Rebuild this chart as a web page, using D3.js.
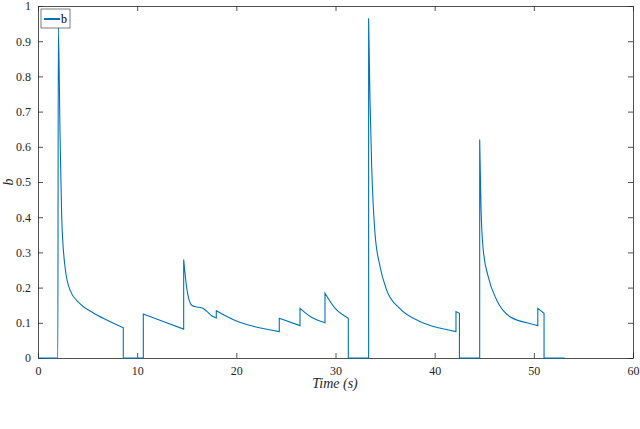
<!DOCTYPE html>
<html><head><meta charset="utf-8">
<script src="https://cdn.jsdelivr.net/npm/d3@7"></script>
<style>body{margin:0;background:#fff} text{font-family:"Liberation Serif","DejaVu Serif",serif !important}</style>
</head><body>
<script>
var times = [0,2.0,2.05,2.22,2.39,2.72,3.23,4.2,5.58,6.93,8.6,8.6,10.62,10.62,12.5,14.69,14.69,14.99,15.5,16.0,16.5,17.0,17.5,17.98,17.98,20,22,24.33,24.33,26.42,26.42,27.5,28.94,28.94,30,31.29,31.29,33.34,33.34,33.48,33.65,33.98,34.49,35.16,36.5,38.5,40.5,42.15,42.15,42.5,42.5,44.54,44.54,44.67,44.9,45.4,46.25,47.6,49.3,50.4,50.4,51.03,51.03,53.1];
var bValues = [0,0,0.94,0.64,0.40,0.26,0.193,0.155,0.128,0.108,0.086,0,0,0.125,0.105,0.082,0.28,0.20,0.15,0.145,0.143,0.133,0.12,0.114,0.134,0.105,0.088,0.075,0.113,0.092,0.141,0.117,0.1,0.184,0.14,0.113,0,0,0.965,0.733,0.544,0.355,0.26,0.193,0.14,0.104,0.085,0.075,0.132,0.127,0,0,0.621,0.43,0.307,0.231,0.165,0.117,0.1,0.092,0.141,0.127,0,0];
var xTicks = [0,10,20,30,40,50,60];
var yTicks = [0,0.1,0.2,0.3,0.4,0.5,0.6,0.7,0.8,0.9,1];

var svg = d3.select("body").append("svg").attr("width", 640).attr("height", 429);

var x = d3.scaleLinear().domain([0, 60]).range([38, 633]);
var y = d3.scaleLinear().domain([0, 1]).range([358, 6]);
var axisColor = "#262626";

var gx = svg.append("g").attr("transform", "translate(0,358)")
  .call(d3.axisBottom(x).tickValues(xTicks).tickSizeInner(-5).tickSizeOuter(0).tickPadding(8));
var gxTop = svg.append("g").attr("transform", "translate(0,6)")
  .call(d3.axisTop(x).tickValues(xTicks).tickSizeInner(-5).tickSizeOuter(0).tickFormat(""));
var gy = svg.append("g").attr("transform", "translate(38,0)")
  .call(d3.axisLeft(y).tickValues(yTicks).tickSizeInner(-5).tickSizeOuter(0).tickPadding(7).tickFormat(d3.format("")));
var gyR = svg.append("g").attr("transform", "translate(633,0)")
  .call(d3.axisRight(y).tickValues(yTicks).tickSizeInner(-5).tickSizeOuter(0).tickFormat(""));

[gx, gxTop, gy, gyR].forEach(function(g) {
  g.selectAll("path").attr("stroke", axisColor).attr("stroke-width", 0.8);
  g.selectAll("line").attr("stroke", axisColor).attr("stroke-width", 0.8);
  g.selectAll("text").attr("fill", axisColor).style("font-size", "12px");
});

// split into smooth runs at vertical jumps, join with straight lines
var pts = times.map(function(t, i) { return [t, bValues[i]]; });
var runs = [[pts[0]]];
for (var i = 1; i < pts.length; i++) {
  if (pts[i][0] === pts[i - 1][0]) runs.push([pts[i]]);
  else runs[runs.length - 1].push(pts[i]);
}
var line = d3.line().x(function(d) { return x(d[0]); }).y(function(d) { return y(d[1]); }).curve(d3.curveMonotoneX);
var dStr = runs.map(function(r, k) {
  var s = r.length > 1 ? line(r) : "M" + x(r[0][0]) + "," + y(r[0][1]);
  return k === 0 ? s : "L" + s.slice(1);
}).join("");
svg.append("path").attr("d", dStr)
  .attr("fill", "none").attr("stroke", "#0072BD").attr("stroke-width", 1.1);

// legend
svg.append("rect").attr("x", 41).attr("y", 9).attr("width", 29).attr("height", 19)
  .attr("fill", "#fff").attr("stroke", axisColor).attr("stroke-width", 0.6);
svg.append("line").attr("x1", 44).attr("x2", 60).attr("y1", 19).attr("y2", 19)
  .attr("stroke", "#0072BD").attr("stroke-width", 2);
svg.append("text").attr("x", 61).attr("y", 23).text("b").style("font-size", "12px");

svg.append("text").attr("x", 335).attr("y", 388).attr("text-anchor", "middle")
  .style("font-size", "14px").style("font-style", "italic").attr("fill", axisColor).text("Time (s)");
svg.append("text").attr("transform", "translate(13,182) rotate(-90)").attr("text-anchor", "middle")
  .style("font-size", "14px").style("font-style", "italic").attr("fill", axisColor).text("b");
</script>
</body></html>
